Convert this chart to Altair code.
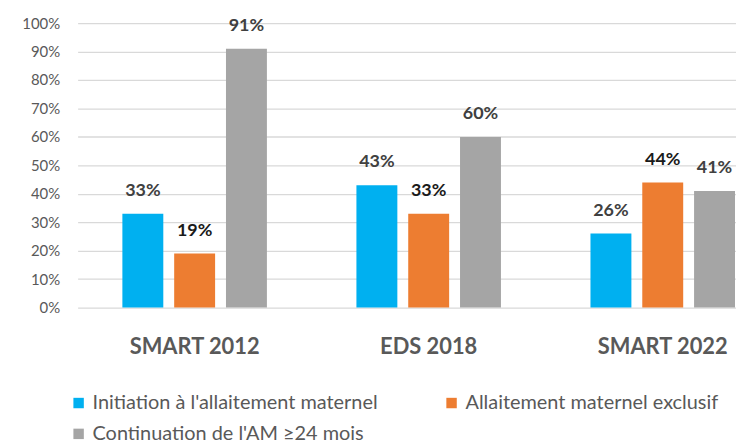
import altair as alt
import pandas as pd

categories = ["SMART 2012", "EDS 2018", "SMART 2022"]
series = [
    "Initiation à l'allaitement maternel",
    "Allaitement maternel exclusif",
    "Continuation de l'AM ≥24 mois",
]
initiation = [0.33, 0.43, 0.26]
exclusif = [0.19, 0.33, 0.44]
continuation = [0.91, 0.60, 0.41]
y_ticks = [0.0, 0.1, 0.2, 0.3, 0.4, 0.5, 0.6, 0.7, 0.8, 0.9, 1.0]

colors = ["#00B0F0", "#ED7D31", "#A5A5A5"]
label_colors = ["#404040", "#1A1A1A", "#404040"]

rows = []
for s, vals, lc in zip(series, [initiation, exclusif, continuation], label_colors):
    for c, v in zip(categories, vals):
        rows.append({"enquete": c, "serie": s, "valeur": v,
                     "label": f"{round(v * 100)}%", "lc": lc})
df = pd.DataFrame(rows)

FONT = "Lato"
GREY = "#595959"

x = alt.X(
    "enquete:N", sort=categories,
    scale=alt.Scale(range=[0, 706], paddingInner=0.336, paddingOuter=0.168),
    axis=alt.Axis(title=None, labelAngle=0, labelFontSize=22, labelFontWeight="bold",
                  labelColor=GREY, labelPadding=29, ticks=False, domain=False,
                  grid=False, labelFont=FONT),
)
xo = alt.XOffset("serie:N", sort=series,
                 scale=alt.Scale(paddingInner=0.21, paddingOuter=0.105))
y_axis = alt.Axis(title=None, format=".0%", values=y_ticks, labelFontSize=15,
                  labelColor=GREY, labelPadding=18, ticks=False, domain=False,
                  grid=True, gridColor="#D9D9D9", gridWidth=1.3, labelFont=FONT,
                  labelOverlap=False)
y_scale = alt.Scale(domain=[0, 1], nice=False)

bars = alt.Chart(df).mark_bar().encode(
    x=x, xOffset=xo,
    y=alt.Y("valeur:Q", scale=y_scale, axis=y_axis),
    color=alt.Color(
        "serie:N", sort=series,
        scale=alt.Scale(domain=series, range=colors),
        legend=alt.Legend(
            title=None, orient="none", legendX=-9, legendY=372,
            direction="horizontal", columns=2, labelFontSize=20,
            labelColor=GREY, labelFont=FONT, symbolType="square",
            symbolSize=110, symbolStrokeWidth=0, columnPadding=64,
            rowPadding=11, labelLimit=400, symbolOffset=0, labelOffset=4,
        ),
    ),
)

labels = alt.Chart(df).mark_text(
    dy=-23, fontSize=18, fontWeight="bold", font=FONT, baseline="middle"
).encode(
    x=alt.X("enquete:N", sort=categories),
    xOffset=alt.XOffset("serie:N", sort=series),
    y=alt.Y("valeur:Q", scale=y_scale, axis=y_axis),
    text="label:N",
    color=alt.Color("lc:N", scale=None),
)

chart = alt.layer(bars, labels).properties(
    width=662, height=286,
    autosize=alt.AutoSizeParams(type="none"),
    padding={"left": 70, "top": 14, "right": 0, "bottom": 138},
).configure_view(stroke=None)

chart.save("out.html", embed_options={"renderer": "svg", "actions": False})
